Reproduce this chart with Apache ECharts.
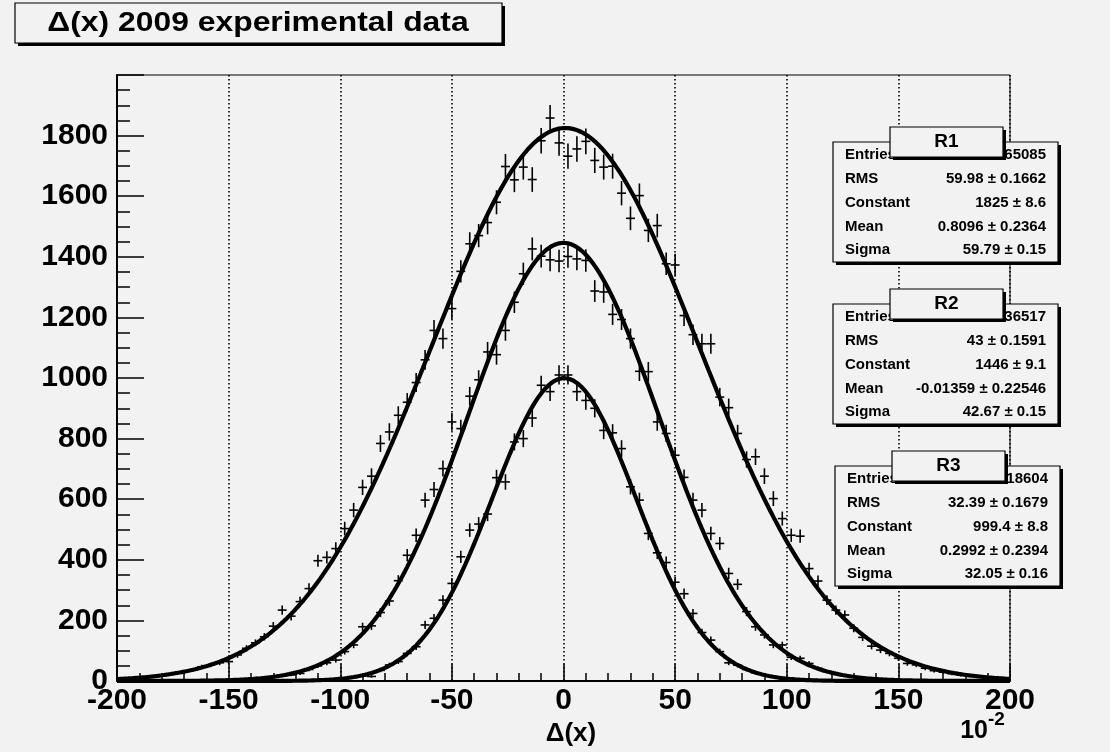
<!DOCTYPE html>
<html>
<head>
<meta charset="utf-8">
<script src="https://cdn.jsdelivr.net/npm/echarts@6/dist/echarts.min.js"></script>
<style>
  html, body { margin: 0; padding: 0; background: #f2f2f2; }
  #chart { width: 1110px; height: 752px; }
</style>
</head>
<body>
<div id="chart"></div>
<script>
// Bin centres of the three histograms (100 bins of width 4 between -200 and 200)
const binCenters = [
  -198,-194,-190,-186,-182,-178,-174,-170,-166,-162,
  -158,-154,-150,-146,-142,-138,-134,-130,-126,-122,
  -118,-114,-110,-106,-102,-98,-94,-90,-86,-82,
  -78,-74,-70,-66,-62,-58,-54,-50,-46,-42,
  -38,-34,-30,-26,-22,-18,-14,-10,-6,-2,
  2,6,10,14,18,22,26,30,34,38,
  42,46,50,54,58,62,66,70,74,78,
  82,86,90,94,98,102,106,110,114,118,
  122,126,130,134,138,142,146,150,154,158,
  162,166,170,174,178,182,186,190,194,198
];
const binWidth = 4;

// Bin contents
const countsR1 = [
  7,8,11,13,17,20,26,30,36,47,
  53,60,64,86,108,126,146,181,234,214,
  262,305,397,408,437,503,564,639,676,784,
  822,877,920,985,1060,1157,1130,1229,1352,1443,
  1470,1513,1580,1698,1654,1696,1655,1783,1858,1776,
  1732,1756,1781,1718,1696,1699,1610,1527,1602,1487,
  1503,1377,1373,1206,1143,1113,1113,937,902,817,
  731,740,676,602,536,481,478,371,330,267,
  234,218,174,144,115,102,91,75,58,53,
  42,34,29,24,19,16,13,10,8,6
];
const countsR2 = [
  0,0,0,0,0,0,1,0,1,1,
  1,2,3,4,5,8,10,13,17,20,
  25,38,50,60,69,97,119,179,182,226,
  264,331,415,481,597,632,701,855,833,940,
  994,1086,1077,1157,1250,1344,1426,1402,1390,1386,
  1401,1393,1388,1287,1284,1210,1193,1130,1022,1021,
  855,817,745,672,597,564,487,454,355,319,
  229,179,152,119,119,78,75,58,42,31,
  24,18,14,10,7,5,4,3,2,1,
  1,1,0,0,1,0,0,0,0,0
];
const countsR3 = [
  0,0,0,0,0,0,0,0,0,0,
  0,0,0,0,0,0,0,0,0,1,
  1,2,2,4,6,8,12,17,15,35,
  53,64,91,113,185,207,267,322,410,498,
  518,551,671,657,789,800,868,976,955,1010,
  1010,955,926,900,827,819,767,641,597,487,
  423,391,326,288,223,160,135,97,60,52,
  38,27,20,14,9,6,4,3,2,1,
  1,0,0,0,0,0,0,0,0,0,
  0,0,0,0,0,0,0,0,0,0
];

// Statistics and Gaussian fit results per histogram
const histNames     = ['R1', 'R2', 'R3'];
const entries       = [65085, 36517, 18604];
const rmsValue      = [59.98, 43, 32.39];
const rmsError      = [0.1662, 0.1591, 0.1679];
const fitConstant   = [1825, 1446, 999.4];
const fitConstantEr = [8.6, 9.1, 8.8];
const fitMean       = [0.8096, -0.01359, 0.2992];
const fitMeanEr     = [0.2364, 0.22546, 0.2394];
const fitSigma      = [59.79, 42.67, 32.05];
const fitSigmaEr    = [0.15, 0.15, 0.16];

// Axis ticks
const xTickLabels = [-200, -150, -100, -50, 0, 50, 100, 150, 200];
const yTickLabels = [0, 200, 400, 600, 800, 1000, 1200, 1400, 1600, 1800];

const FONT = '"Liberation Sans", Arial, Helvetica, sans-serif';
const BG = '#f2f2f2';

// Gaussian fit function sampled over the axis range from the fitted parameters
function fitCurve(k) {
  const pts = [];
  for (let x = -200; x <= 200; x += 1) {
    const z = (x - fitMean[k]) / fitSigma[k];
    pts.push([x, fitConstant[k] * Math.exp(-0.5 * z * z)]);
  }
  return pts;
}

// Data point with Poisson error bar and bin-width horizontal bar
function renderCross(params, api) {
  const x = api.value(0), n = api.value(1);
  if (!(n > 0)) return null;
  const err = Math.sqrt(n);
  const half = binWidth / 2;
  const a = api.coord([x - half, n]), b = api.coord([x + half, n]);
  const c = api.coord([x, n - err]), d = api.coord([x, n + err]);
  const st = { stroke: '#000', lineWidth: 1.6 };
  return {
    type: 'group',
    children: [
      { type: 'line', shape: { x1: a[0], y1: a[1], x2: b[0], y2: b[1] }, style: st },
      { type: 'line', shape: { x1: c[0], y1: c[1], x2: d[0], y2: d[1] }, style: st }
    ]
  };
}

const allCounts = [countsR1, countsR2, countsR3];
const series = [];
allCounts.forEach((counts, k) => {
  series.push({
    name: histNames[k] + ' data',
    type: 'custom',
    renderItem: renderCross,
    clip: true,
    encode: { x: 0, y: 1 },
    data: binCenters.map((x, i) => [x, counts[i]]),
    z: 3
  });
  series.push({
    name: histNames[k] + ' fit',
    type: 'line',
    data: fitCurve(k),
    showSymbol: false,
    symbol: 'none',
    clip: true,
    lineStyle: { color: '#000', width: 4.2 },
    z: 4
  });
});

// Boxed text helpers (ROOT-style panes with drop shadow)
function pane(x, y, w, h, shadow) {
  return [
    { type: 'rect', shape: { x: x + shadow, y: y + shadow, width: w, height: h }, style: { fill: '#000' }, z: 100 },
    { type: 'rect', shape: { x: x, y: y, width: w, height: h }, style: { fill: BG, stroke: '#000', lineWidth: 1.2 }, z: 100 }
  ];
}
function txt(s, x, y, size, align, extra) {
  return Object.assign({
    type: 'text', z: 101,
    style: { text: s, x: x, y: y, fill: '#000', fontFamily: FONT, fontWeight: 'bold', fontSize: size, align: align, verticalAlign: 'middle' }
  }, extra || {});
}

const graphics = [];
// Title pane (wide bold Helvetica-style lettering)
graphics.push(...pane(15, 3, 487, 40, 3));
graphics.push(txt('\u0394(x) 2009 experimental data', 0, 0, 27, 'center', { x: 258, y: 24, scaleX: 1.18 }));

// Statistics panes
const paneOrigin = [[833, 142], [833, 304], [835, 466]];
const rowOffsets = [13, 37, 61, 85, 108];
histNames.forEach((nm, k) => {
  const [px, py] = paneOrigin[k];
  graphics.push(...pane(px, py, 225, 120, 3));
  const labels = ['Entries', 'RMS', 'Constant', 'Mean', 'Sigma'];
  const values = [
    String(entries[k]),
    rmsValue[k] + ' \u00b1 ' + rmsError[k],
    fitConstant[k] + ' \u00b1 ' + fitConstantEr[k],
    fitMean[k] + ' \u00b1 ' + fitMeanEr[k],
    fitSigma[k] + ' \u00b1 ' + fitSigmaEr[k]
  ];
  labels.forEach((lb, r) => {
    graphics.push(txt(lb, px + 12, py + rowOffsets[r], 15, 'left'));
    graphics.push(txt(values[r], px + 213, py + rowOffsets[r], 15, 'right'));
  });
  // Name tab on top of the pane
  graphics.push(...pane(px + 57, py - 15, 113, 30, 3).map(e => Object.assign(e, { z: 102 })));
  graphics.push(txt(nm, px + 57 + 56.5, py, 19, 'center', { z: 103 }));
});

// Axis exponent
graphics.push(txt('10', 988, 731, 25, 'right'));
graphics.push(txt('-2', 988, 720, 19, 'left'));

const option = {
  backgroundColor: BG,
  animation: false,
  grid: { left: 117, right: 100, top: 75, bottom: 71, show: true, borderColor: '#000', borderWidth: 1, backgroundColor: 'transparent' },
  xAxis: {
    type: 'value', min: xTickLabels[0], max: xTickLabels[xTickLabels.length - 1], interval: 50,
    name: '\u0394(x)', nameLocation: 'middle', nameGap: 40,
    nameTextStyle: { color: '#000', fontFamily: FONT, fontWeight: 'bold', fontSize: 26, padding: [0, 0, 0, 15] },
    axisLine: { onZero: false, lineStyle: { color: '#000', width: 2 } },
    axisTick: { inside: true, length: 17, lineStyle: { color: '#000', width: 1.5 } },
    minorTick: { show: true, splitNumber: 5, length: 8, lineStyle: { color: '#000', width: 1.5 } },
    splitLine: { show: true, lineStyle: { color: '#000', width: 1.6, type: [1.6, 2.4] } },
    axisLabel: {
      color: '#000', fontFamily: FONT, fontWeight: 'bold', fontSize: 30, margin: 5,
      showMinLabel: true, showMaxLabel: true,
      formatter: v => (xTickLabels.indexOf(v) >= 0 ? String(v) : '')
    }
  },
  yAxis: {
    type: 'value', min: 0, max: 2000, interval: 200,
    axisLine: { onZero: false, lineStyle: { color: '#000', width: 2 } },
    axisTick: { inside: true, length: 27, lineStyle: { color: '#000', width: 1.5 } },
    minorTick: { show: true, splitNumber: 4, length: 13, lineStyle: { color: '#000', width: 1.5 } },
    splitLine: { show: false },
    axisLabel: {
      color: '#000', fontFamily: FONT, fontWeight: 'bold', fontSize: 30, margin: 9,
      formatter: v => (yTickLabels.indexOf(v) >= 0 ? String(v) : '')
    }
  },
  series: series,
  graphic: graphics
};

const chart = echarts.init(document.getElementById('chart'), null, { renderer: 'canvas' });
chart.setOption(option);
</script>
</body>
</html>
